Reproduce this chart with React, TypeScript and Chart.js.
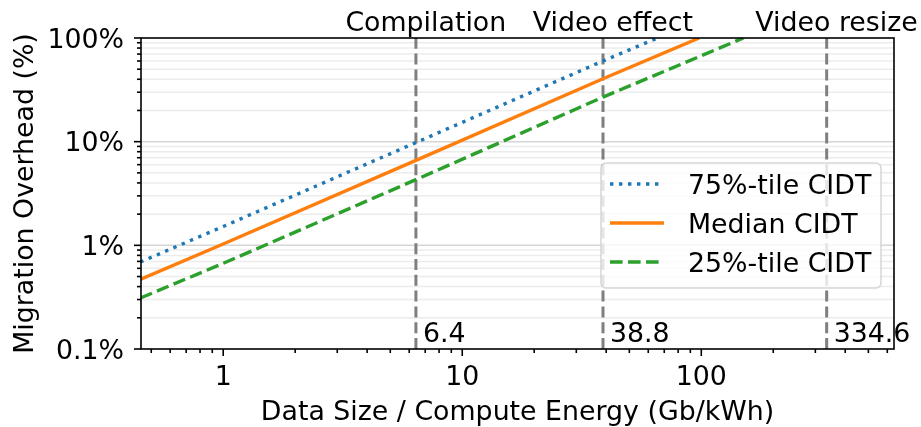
import React, { useEffect, useRef } from "react";
import { Chart, registerables } from "chart.js";

Chart.register(...registerables);

// Axis ranges and tick labels
const xMin = 0.453;
const xMax = 640;
const yMin = 0.1;
const yMax = 100;
const xTicks = [1, 10, 100];
const xTickLabels = ["1", "10", "100"];
const yTicks = [0.1, 1, 10, 100];
const yTickLabels = ["0.1%", "1%", "10%", "100%"];

// Series
const seriesNames = ["75%-tile CIDT", "Median CIDT", "25%-tile CIDT"];
const x75 = [0.45, 1, 6.4, 38.8, 65.5];
const y75 = [0.69, 1.52, 9.8, 60, 100];
const xMed = [0.45, 1, 6.4, 38.8, 98];
const yMed = [0.47, 1.03, 6.6, 40.5, 100];
const x25 = [0.45, 1, 6.4, 38.8, 150];
const y25 = [0.31, 0.67, 4.3, 26.9, 100];

// Workload markers
const workloadNames = ["Compilation", "Video effect", "Video resize"];
const workloadX = [6.4, 38.8, 334.6];
const workloadLabels = ["6.4", "38.8", "334.6"];

const xTitle = "Data Size / Compute Energy (Gb/kWh)";
const yTitle = "Migration Overhead (%)";

const FONT = '26.8px "DejaVu Sans"';

const zip = (xs: number[], ys: number[]) => xs.map((x, i) => ({ x, y: ys[i] }));

const decoPlugin = {
  id: "deco",
  beforeDatasetsDraw(chart: any) {
    const { ctx, chartArea: a, scales } = chart;
    const y = scales.y;
    ctx.save();
    ctx.lineWidth = 1.5;
    for (let e = -1; e <= 1; e++) {
      for (let m = 1; m <= 9; m++) {
        const v = m * Math.pow(10, e);
        if (v <= yMin * 1.0001 || v >= yMax * 0.9999) continue;
        const py = y.getPixelForValue(v);
        ctx.strokeStyle = m === 1 ? "rgb(214,214,214)" : "rgb(236,236,236)";
        ctx.beginPath();
        ctx.moveTo(a.left, py);
        ctx.lineTo(a.right, py);
        ctx.stroke();
      }
    }
    ctx.restore();
  },
  afterDatasetsDraw(chart: any) {
    const { ctx, chartArea: a, scales } = chart;
    const x = scales.x;
    const y = scales.y;
    ctx.save();
    // frame
    ctx.strokeStyle = "#000";
    ctx.lineWidth = 1.6;
    ctx.strokeRect(a.left, a.top, a.right - a.left, a.bottom - a.top);

    // y ticks
    ctx.lineWidth = 1.6;
    for (let e = -1; e <= 2; e++) {
      for (let m = 1; m <= 9; m++) {
        const v = m * Math.pow(10, e);
        if (v < yMin * 0.9999 || v > yMax * 1.0001) continue;
        const py = y.getPixelForValue(v);
        const len = m === 1 ? 7 : 4;
        ctx.beginPath();
        ctx.moveTo(a.left - len, py);
        ctx.lineTo(a.left, py);
        ctx.stroke();
      }
    }
    // x ticks
    for (let e = -1; e <= 2; e++) {
      for (let m = 1; m <= 9; m++) {
        const v = m * Math.pow(10, e);
        if (v < xMin || v > xMax) continue;
        const px = x.getPixelForValue(v);
        const len = m === 1 ? 7 : 4;
        ctx.beginPath();
        ctx.moveTo(px, a.bottom);
        ctx.lineTo(px, a.bottom + len);
        ctx.stroke();
      }
    }

    ctx.fillStyle = "#000";
    ctx.font = FONT;
    // y tick labels
    ctx.textAlign = "right";
    ctx.textBaseline = "alphabetic";
    yTicks.forEach((v, i) => {
      ctx.fillText(yTickLabels[i], a.left - 17, y.getPixelForValue(v) + 9.8);
    });
    // x tick labels
    ctx.textAlign = "center";
    xTicks.forEach((v, i) => {
      ctx.fillText(xTickLabels[i], x.getPixelForValue(v), a.bottom + 36);
    });
    // axis titles
    ctx.fillText(xTitle, (a.left + a.right) / 2, a.bottom + 71);
    ctx.save();
    ctx.translate(33, (a.top + a.bottom) / 2);
    ctx.rotate(-Math.PI / 2);
    ctx.fillText(yTitle, 0, 0);
    ctx.restore();

    // workload labels
    workloadX.forEach((wx, i) => {
      ctx.textAlign = "center";
      ctx.fillText(workloadNames[i], x.getPixelForValue(wx * 1.1), a.top - 7);
      ctx.textAlign = "left";
      ctx.fillText(workloadLabels[i], x.getPixelForValue(wx) + 7, a.bottom - 7);
    });

    // legend
    const bw = 280;
    const bh = 125;
    const bx = a.right - 13 - bw;
    const by = a.bottom - 61 - bh;
    ctx.beginPath();
    (ctx as any).roundRect(bx, by, bw, bh, 5);
    ctx.fillStyle = "rgba(255,255,255,0.8)";
    ctx.fill();
    ctx.strokeStyle = "rgba(204,204,204,0.8)";
    ctx.lineWidth = 1.5;
    ctx.stroke();
    for (let i = 0; i < 3; i++) {
      const ds = chart.data.datasets[i];
      const cy = by + 21 + 39 * i;
      ctx.save();
      ctx.strokeStyle = ds.borderColor;
      ctx.lineWidth = ds.borderWidth;
      ctx.setLineDash(ds.borderDash || []);
      ctx.lineCap = "butt";
      ctx.beginPath();
      ctx.moveTo(bx + 9, cy);
      ctx.lineTo(bx + 63, cy);
      ctx.stroke();
      ctx.restore();
      ctx.fillStyle = "#000";
      ctx.textAlign = "left";
      ctx.fillText(seriesNames[i], bx + 87, cy + 9.8);
    }
    ctx.restore();
  },
};

export default function App() {
  const ref = useRef<HTMLCanvasElement>(null);
  useEffect(() => {
    if (!ref.current) return;
    const lineW = 3.4;
    const vlines = workloadX.map((wx) => ({
      label: "",
      data: [
        { x: wx, y: yMin },
        { x: wx, y: yMax },
      ],
      borderColor: "#7f7f7f",
      borderWidth: 3,
      borderDash: [11, 4.8],
      pointRadius: 0,
    }));
    const chart = new Chart(ref.current, {
      type: "line",
      data: {
        datasets: [
          {
            label: seriesNames[0],
            data: zip(x75, y75),
            borderColor: "#1f77b4",
            borderWidth: lineW,
            borderDash: [3.4, 5.6],
            pointRadius: 0,
          },
          {
            label: seriesNames[1],
            data: zip(xMed, yMed),
            borderColor: "#ff7f0e",
            borderWidth: lineW,
            pointRadius: 0,
          },
          {
            label: seriesNames[2],
            data: zip(x25, y25),
            borderColor: "#2ca02c",
            borderWidth: lineW,
            borderDash: [12.6, 5.4],
            pointRadius: 0,
          },
          ...vlines,
        ] as any,
      },
      options: {
        animation: false,
        responsive: false,
        maintainAspectRatio: false,
        devicePixelRatio: 1,
        layout: { padding: { left: 141, right: 27, top: 38, bottom: 78 } },
        plugins: { legend: { display: false }, tooltip: { enabled: false } },
        elements: { line: { tension: 0, fill: false } },
        scales: {
          x: { type: "logarithmic", min: xMin, max: xMax, display: false },
          y: { type: "logarithmic", min: yMin, max: yMax, display: false },
        },
      },
      plugins: [decoPlugin],
    });
    return () => chart.destroy();
  }, []);
  return (
    <div style={{ position: "fixed", left: 0, top: 0, width: 921, height: 427, background: "#fff" }}>
      <canvas ref={ref} width={921} height={427} style={{ width: 921, height: 427 }} />
    </div>
  );
}
